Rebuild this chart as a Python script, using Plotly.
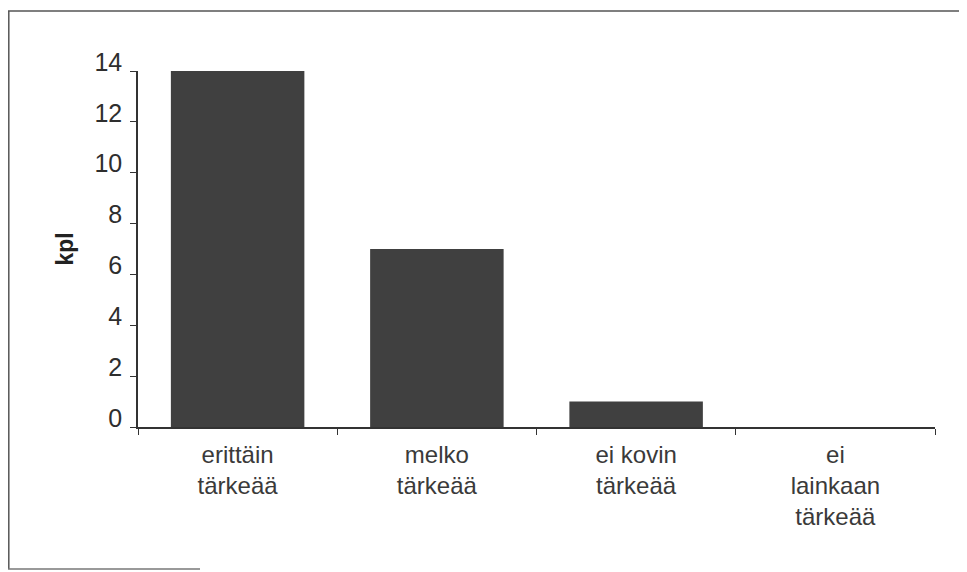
import plotly.graph_objects as go

categories = ["erittäin<br>tärkeää", "melko<br>tärkeää", "ei kovin<br>tärkeää", "ei<br>lainkaan<br>tärkeää"]
values = [14, 7, 1, 0]
y_ticks = [0, 2, 4, 6, 8, 10, 12, 14]
y_title = "kpl"

FONT = "Liberation Sans, Arial, sans-serif"
DARK = "#333333"

W, H = 959, 564
L, T, R, B = 130, 63, 32, 145
PW, PH = W - L - R, H - T - B

fig = go.Figure()
fig.add_trace(go.Bar(
    x=categories, y=values,
    marker=dict(color="#404040", line=dict(width=0)),
))

fig.update_layout(
    width=W, height=H,
    margin=dict(l=L, r=R, t=T, b=B),
    paper_bgcolor="white", plot_bgcolor="white",
    bargap=0.33,
    showlegend=False,
    font=dict(family=FONT, color=DARK),
)
fig.update_xaxes(
    type="category",
    tickson="boundaries",
    showline=True, linecolor=DARK, linewidth=1.5,
    ticks="outside", ticklen=6, tickcolor=DARK, tickwidth=1.2,
    tickfont=dict(size=24, family=FONT, color="#3a3a3a"),
    ticklabelstandoff=5,
    showgrid=False, zeroline=False,
)
fig.update_yaxes(
    range=[0, 14],
    tickvals=y_ticks,
    showline=True, linecolor=DARK, linewidth=1.5,
    ticks="outside", ticklen=6, tickcolor=DARK, tickwidth=1.2,
    tickfont=dict(size=25, family=FONT, color="#2e2e2e"),
    ticklabelshift=-9,
    ticklabelstandoff=3,
    showgrid=False, zeroline=False,
    title=dict(text=y_title, font=dict(size=23, family=FONT, color="#222222", weight="bold"), standoff=14),
)

def px(xp):
    return (xp - L) / PW

def py(yp):
    return (T + PH - yp) / PH

frame = dict(color="#555555", width=1.5)
# top
fig.add_shape(type="line", xref="paper", yref="paper",
              x0=px(0), x1=px(W), y0=py(3), y1=py(3), line=frame)
# left
fig.add_shape(type="line", xref="paper", yref="paper",
              x0=px(0.8), x1=px(0.8), y0=py(3), y1=py(561), line=frame)
# partial bottom
fig.add_shape(type="line", xref="paper", yref="paper",
              x0=px(0), x1=px(192), y0=py(561), y1=py(561),
              line=dict(color="#777777", width=1.5))

fig.write_html("out.html")
